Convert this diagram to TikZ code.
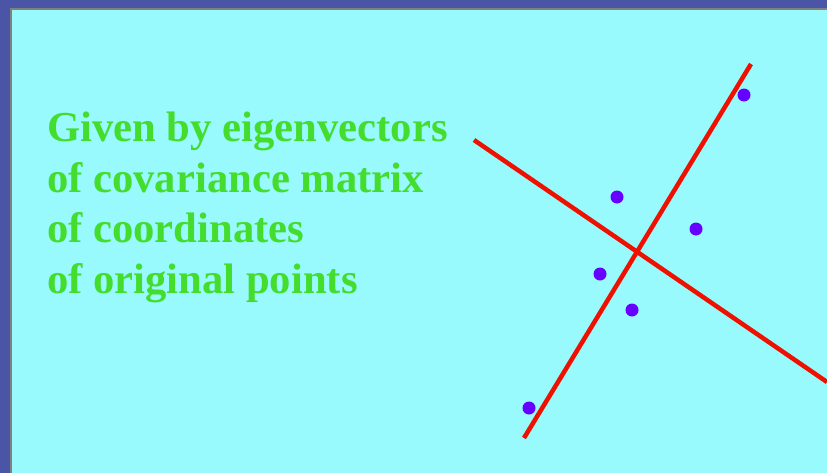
\documentclass[tikz,border=0pt]{standalone}
\usepackage{fontspec}
\setmainfont{Liberation Serif}
\usepackage{xcolor}
\usepackage{tikz}
\usetikzlibrary{positioning}

\definecolor{slideblue}{HTML}{4B55A6}
\definecolor{slidecyan}{HTML}{99FAFE}
\definecolor{textgreen}{HTML}{44DD2E}
\definecolor{axisred}{HTML}{EE1100}
\definecolor{dotviolet}{HTML}{6600FF}

\begin{document}
\begin{tikzpicture}[
  x=0.03cm, y=-0.03cm,
  caption/.style={anchor=base west,align=left,inner sep=0pt,text=textgreen,
    font=\fontsize{36.4}{43}\selectfont\bfseries},
  axis/.style={draw=axisred,line width=1.35mm},
  dot/.style={circle,fill=dotviolet,inner sep=0pt,minimum size=3.9mm},
]
  \useasboundingbox (0,0) rectangle (827,473);
  % frame
  \fill[slideblue] (0,0) rectangle (827,473);
  \fill[gray] (10,8) rectangle (827,473);
  \fill[slidecyan] (12,10) rectangle (827,473);

  % base anchor sits on the last line
  \node[caption] (txt) at (47,293) {Given by eigenvectors\\of covariance matrix\\of coordinates\\of original points};

  % principal axes
  \coordinate (a1) at (474,140);
  \coordinate (a2) at (827,382);
  \coordinate (b1) at (751,64);
  \coordinate (b2) at (524,438);
  \draw[axis] (a1) -- (a2);
  \draw[axis] (b1) -- (b2);

  % original points
  \node[dot] (p1) at (744,95) {};
  \node[dot] (p2) at (617,197) {};
  \node[dot] (p3) at (696,229) {};
  \node[dot] (p4) at (600,274) {};
  \node[dot] (p5) at (632,310) {};
  \node[dot] (p6) at (529,408) {};
\end{tikzpicture}
\end{document}
